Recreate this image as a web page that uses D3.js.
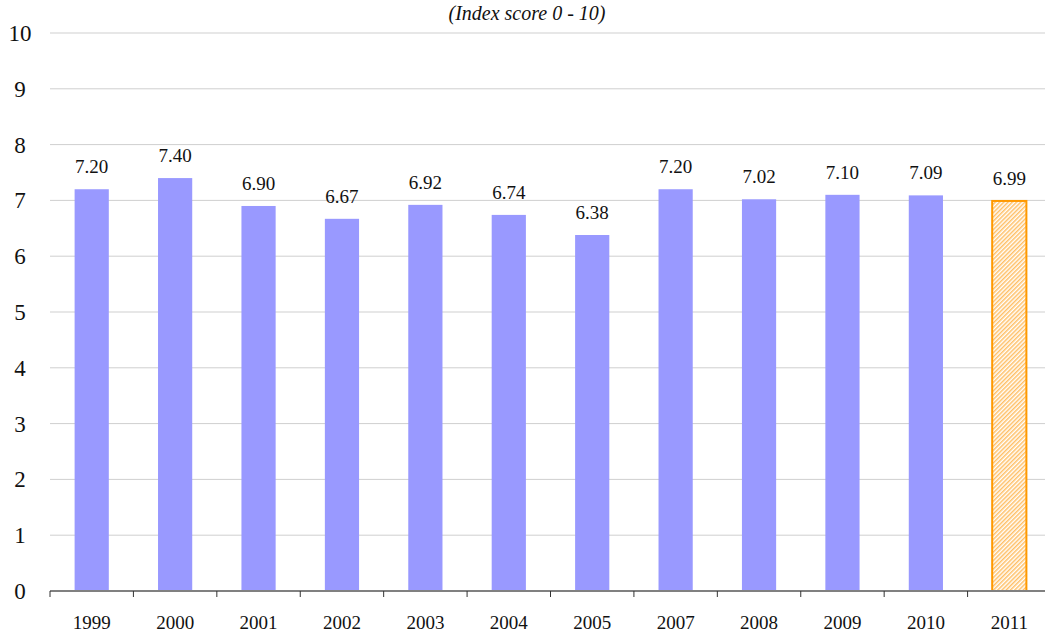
<!DOCTYPE html>
<html>
<head>
<meta charset="utf-8">
<script src="https://cdn.jsdelivr.net/npm/d3@7/dist/d3.min.js"></script>
<style>
  html, body { margin: 0; padding: 0; background: #fff; }
</style>
</head>
<body>
<svg id="fig" width="1045" height="634" style="font-family:'Liberation Serif', 'Times New Roman', serif"></svg>
<script>
// Index score by year
const years = ["1999", "2000", "2001", "2002", "2003", "2004", "2005", "2007", "2008", "2009", "2010", "2011"];
const scores = [7.20, 7.40, 6.90, 6.67, 6.92, 6.74, 6.38, 7.20, 7.02, 7.10, 7.09, 6.99];
const yTicks = [0, 1, 2, 3, 4, 5, 6, 7, 8, 9, 10];
const highlightYear = "2011";

const svg = d3.select("#fig");
const margin = { left: 50, right: -6, top: 33, bottom: 43 };
const W = 1045, H = 634;

const x = d3.scaleBand()
  .domain(years)
  .range([margin.left, W - margin.right])
  .paddingInner(0.59)
  .paddingOuter(0.295);

const y = d3.scaleLinear().domain([0, 10]).range([H - margin.bottom, margin.top]);

// hatch pattern for the latest year
const defs = svg.append("defs");
const pat = defs.append("pattern")
  .attr("id", "hatch")
  .attr("patternUnits", "userSpaceOnUse")
  .attr("width", 3).attr("height", 3)
  .attr("patternTransform", "rotate(45)");
pat.append("rect").attr("width", 3).attr("height", 3).attr("fill", "#fff");
pat.append("rect").attr("width", 1.5).attr("height", 3).attr("fill", "#ffbf66");

// gridlines
svg.append("g")
  .selectAll("line")
  .data(yTicks.filter(d => d > 0))
  .join("line")
  .attr("x1", margin.left).attr("x2", W)
  .attr("y1", d => y(d)).attr("y2", d => y(d))
  .attr("stroke", "#cfcfcf").attr("stroke-width", 1);

// y labels
svg.append("g")
  .selectAll("text")
  .data(yTicks)
  .join("text")
  .attr("x", 20)
  .attr("y", d => y(d))
  .attr("dy", "0.35em")
  .attr("text-anchor", "middle")
  .style("font-size", "23px")
  .attr("fill", "#111")
  .text(d => d);

// bars
const rows = years.map((yr, i) => ({ yr, v: scores[i] }));
svg.append("g")
  .selectAll("rect")
  .data(rows)
  .join("rect")
  .attr("x", d => x(d.yr))
  .attr("width", x.bandwidth())
  .attr("y", d => y(d.v))
  .attr("height", d => y(0) - y(d.v))
  .attr("fill", d => d.yr === highlightYear ? "url(#hatch)" : "#9999ff")
  .attr("stroke", d => d.yr === highlightYear ? "#ff9900" : "none")
  .attr("stroke-width", 2);

// value labels
svg.append("g")
  .selectAll("text")
  .data(rows)
  .join("text")
  .attr("x", d => x(d.yr) + x.bandwidth() / 2)
  .attr("y", d => y(d.v) - 16)
  .attr("text-anchor", "middle")
  .style("font-size", "19px")
  .attr("fill", "#111")
  .text(d => d.v.toFixed(2));

// x axis
const step = x.step();
const axisY = y(0);
svg.append("line")
  .attr("x1", margin.left).attr("x2", W)
  .attr("y1", axisY).attr("y2", axisY)
  .attr("stroke", "#808080").attr("stroke-width", 2);

svg.append("g")
  .selectAll("line")
  .data(d3.range(years.length + 1))
  .join("line")
  .attr("x1", i => margin.left + i * step)
  .attr("x2", i => margin.left + i * step)
  .attr("y1", axisY).attr("y2", axisY + 6)
  .attr("stroke", "#333").attr("stroke-width", 1);

svg.append("g")
  .selectAll("text")
  .data(years)
  .join("text")
  .attr("x", d => x(d) + x.bandwidth() / 2)
  .attr("y", 622)
  .attr("dy", "0.35em")
  .attr("text-anchor", "middle")
  .style("font-size", "19px")
  .attr("fill", "#111")
  .text(d => d);

// subtitle
svg.append("text")
  .attr("x", 527).attr("y", 20)
  .attr("text-anchor", "middle")
  .style("font-size", "20px")
  .style("font-style", "italic")
  .attr("fill", "#111")
  .text("(Index score 0 - 10)");
</script>
</body>
</html>
